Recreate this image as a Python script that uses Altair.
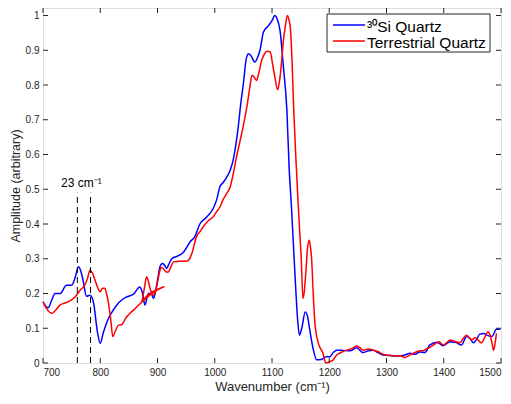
import altair as alt
import pandas as pd

# ---- data ----
blue_w = [700, 709, 715, 721, 730, 741, 750, 756, 762, 766, 770, 776, 782, 788, 795, 800, 805, 811, 820, 829,
          838, 846, 858, 869, 874, 878, 884, 889, 893, 897, 901, 905, 909, 913, 916, 920, 925, 934, 945, 957,
          965, 974, 986, 997, 1003, 1009, 1015, 1021, 1027, 1032, 1037, 1041, 1045, 1050, 1055, 1059, 1063, 1070,
          1075, 1079, 1085, 1094, 1100, 1105, 1109, 1114, 1120, 1126, 1130, 1134, 1140, 1145, 1148, 1152, 1158,
          1162, 1166, 1172, 1178, 1186, 1195, 1201, 1207, 1213, 1224, 1236, 1248, 1259, 1268, 1277, 1285, 1294,
          1310, 1323, 1332, 1341, 1350, 1358, 1367, 1376, 1388, 1399, 1411, 1420, 1431, 1440, 1446, 1452, 1458,
          1463, 1470, 1475, 1484, 1492, 1499]
blue_a = [0.176, 0.159, 0.18, 0.20, 0.20, 0.224, 0.224, 0.245, 0.277, 0.265, 0.238, 0.192, 0.195, 0.176, 0.09,
          0.057, 0.085, 0.115, 0.145, 0.167, 0.182, 0.19, 0.198, 0.219, 0.2, 0.167, 0.2, 0.2, 0.186, 0.21, 0.248,
          0.28, 0.286, 0.28, 0.272, 0.285, 0.30, 0.307, 0.318, 0.349, 0.363, 0.40, 0.42, 0.444, 0.468, 0.507,
          0.52, 0.535, 0.555, 0.583, 0.63, 0.679, 0.74, 0.804, 0.875, 0.89, 0.885, 0.866, 0.88, 0.9, 0.952,
          0.971, 0.985, 1.0, 0.99, 0.957, 0.85, 0.727, 0.56, 0.449, 0.258, 0.12, 0.08, 0.1, 0.147, 0.135, 0.095,
          0.04, 0.009, 0.01, 0.018, 0.018, 0.03, 0.037, 0.036, 0.035, 0.044, 0.03, 0.035, 0.037, 0.03, 0.023,
          0.021, 0.02, 0.023, 0.028, 0.025, 0.032, 0.03, 0.052, 0.06, 0.05, 0.061, 0.06, 0.052, 0.076, 0.07,
          0.058, 0.07, 0.083, 0.085, 0.08, 0.076, 0.097, 0.097]

red_w = [700, 707, 715, 722, 730, 737, 744, 756, 765, 773, 778, 782, 786, 791, 796, 800, 804, 808, 811, 814,
         818, 822, 827, 832, 837, 845, 852, 860, 869, 912, 872, 877, 881, 884, 887, 890, 893, 897, 901, 904,
         907, 911, 915, 919, 923, 928, 939, 951, 956, 960, 968, 975, 980, 989, 997, 1003, 1009, 1014, 1021,
         1027, 1033, 1038, 1047, 1056, 1061, 1065, 1069, 1073, 1077, 1082, 1087, 1091, 1097, 1101, 1105, 1110,
         1113, 1117, 1120, 1123, 1127, 1130, 1132, 1135, 1138, 1142, 1146, 1149, 1151, 1154, 1156, 1159, 1162,
         1165, 1167, 1169, 1172, 1175, 1181, 1189, 1194, 1201, 1207, 1213, 1218, 1230, 1240, 1248, 1253, 1259,
         1268, 1277, 1285, 1294, 1305, 1317, 1325, 1332, 1340, 1347, 1358, 1364, 1370, 1376, 1382, 1392, 1399,
         1405, 1411, 1420, 1428, 1436, 1440, 1445, 1449, 1455, 1460, 1466, 1472, 1477, 1481, 1484, 1487, 1490,
         1492]
red_a = [0.176, 0.155, 0.143, 0.152, 0.167, 0.172, 0.176, 0.19, 0.21, 0.224, 0.245, 0.267, 0.26, 0.238, 0.215,
         0.205, 0.215, 0.215, 0.2, 0.176, 0.13, 0.076, 0.095, 0.109, 0.11, 0.13, 0.143, 0.155, 0.17, 0.22, 0.175,
         0.215, 0.248, 0.235, 0.215, 0.2, 0.195, 0.21, 0.24, 0.265, 0.275, 0.27, 0.262, 0.262, 0.275, 0.291,
         0.293, 0.293, 0.3, 0.315, 0.363, 0.38, 0.392, 0.41, 0.42, 0.435, 0.449, 0.468, 0.488, 0.507, 0.55,
         0.593, 0.66, 0.736, 0.79, 0.828, 0.822, 0.813, 0.835, 0.871, 0.89, 0.897, 0.895, 0.86, 0.823, 0.786,
         0.81, 0.871, 0.93, 0.966, 1.0, 0.985, 0.966, 0.87, 0.727, 0.58, 0.449, 0.36, 0.305, 0.186, 0.2, 0.258,
         0.33, 0.353, 0.335, 0.305, 0.2, 0.114, 0.057, 0.028, 0.0, 0.004, 0.009, 0.023, 0.028, 0.037, 0.042,
         0.049, 0.045, 0.037, 0.04, 0.037, 0.033, 0.025, 0.022, 0.02, 0.02, 0.016, 0.022, 0.028, 0.035, 0.035,
         0.041, 0.045, 0.052, 0.061, 0.052, 0.058, 0.066, 0.062, 0.058, 0.075, 0.08, 0.072, 0.066, 0.073, 0.066,
         0.058, 0.075, 0.09, 0.08, 0.06, 0.037, 0.06, 0.085]

series_names = ["\u00b3\u2070Si Quartz", "Terrestrial Quartz"]
series_colors = ["#0000ff", "#ff0000"]

marker_w = [760, 783]
marker_top = 0.49
annot_text = ["23 cm\u207b\u00b9"]
annot_w = [767]
annot_a = [0.506]

x_ticks = [700, 800, 900, 1000, 1100, 1200, 1300, 1400, 1500]
y_ticks = [0, 0.1, 0.2, 0.3, 0.4, 0.5, 0.6, 0.7, 0.8, 0.9, 1.0]

# ---- tables ----
df = pd.concat([
    pd.DataFrame({"w": blue_w, "a": blue_a, "s": series_names[0], "i": range(len(blue_w))}),
    pd.DataFrame({"w": red_w, "a": red_a, "s": series_names[1], "i": range(len(red_w))}),
])
mk = pd.DataFrame({"w": marker_w, "a0": 0.0, "a1": marker_top})
an = pd.DataFrame({"t": annot_text, "w": annot_w, "a": annot_a})
xt = pd.DataFrame({"w": x_ticks})
yt = pd.DataFrame({"a": y_ticks})

FONT = "Liberation Sans"
AX = "#262626"
W, H = 458, 355

xs = alt.Scale(domain=[700, 1500], nice=False)
ys = alt.Scale(domain=[0, 1.0216], nice=False)

x_axis = alt.Axis(values=x_ticks, format="d", ticks=False, domain=False, grid=False,
                  labelFont=FONT, labelFontSize=10, labelColor=AX, labelPadding=4, labelOverlap=False,
                  title="Wavenumber (cm\u207b\u00b9)", titleFont=FONT, titleFontSize=13,
                  titleFontWeight="normal", titleColor=AX, titlePadding=3)
y_axis = alt.Axis(values=y_ticks, format=".1~f", ticks=False, domain=False, grid=False,
                  labelFont=FONT, labelFontSize=10, labelColor=AX, labelPadding=4, labelOverlap=False,
                  title="Amplitude (arbitrary)", titleFont=FONT, titleFontSize=12.5,
                  titleFontWeight="normal", titleColor=AX, titlePadding=3)

X = lambda f: alt.X(f, scale=xs, axis=x_axis)
Y = lambda f: alt.Y(f, scale=ys, axis=y_axis)

lines = alt.Chart(df).mark_line(strokeWidth=1.5, interpolate="monotone").encode(
    x=X("w:Q"), y=Y("a:Q"),
    color=alt.Color("s:N", scale=alt.Scale(domain=series_names, range=series_colors), legend=None),
    order="i:Q",
)

dashes = alt.Chart(mk).mark_rule(color="black", strokeWidth=1, strokeDash=[6, 4]).encode(
    x=X("w:Q"), y=Y("a0:Q"), y2="a1:Q")

label = alt.Chart(an).mark_text(font=FONT, fontSize=12, color="black", baseline="alphabetic").encode(
    x=X("w:Q"), y=Y("a:Q"), text="t:N")

tk = dict(color=AX, strokeWidth=1)
xb = alt.Chart(xt).mark_rule(**tk).encode(x=X("w:Q"), y=alt.value(H), y2=alt.value(H - 5))
xtop = alt.Chart(xt).mark_rule(**tk).encode(x=X("w:Q"), y=alt.value(0), y2=alt.value(5))
yl = alt.Chart(yt).mark_rule(**tk).encode(y=Y("a:Q"), x=alt.value(0), x2=alt.value(5))
yr = alt.Chart(yt).mark_rule(**tk).encode(y=Y("a:Q"), x=alt.value(W), x2=alt.value(W - 5))

# legend box (styled manually to match the reference layout)
box = alt.Chart(pd.DataFrame({"k": [0]})).mark_rect(fill="white", stroke=AX, strokeWidth=1).encode(
    x=alt.value(284), x2=alt.value(447), y=alt.value(6), y2=alt.value(44))
leg = [box]
for k, (name, col) in enumerate(zip(series_names, series_colors)):
    row = pd.DataFrame({"s": [name]})
    leg.append(alt.Chart(row).mark_rule(color=col, strokeWidth=1.5).encode(
        x=alt.value(290), x2=alt.value(322), y=alt.value(17 + 16 * k)))
    leg.append(alt.Chart(row).mark_text(font=FONT, fontSize=15.5, color="black", align="left",
                                        baseline="alphabetic").encode(
        x=alt.value(324), y=alt.value(23.5 + 16 * k), text="s:N"))

chart = alt.layer(lines, dashes, label, xb, xtop, yl, yr, *leg).properties(
    width=W, height=H,
    autosize=alt.AutoSizeParams(type="none"),
    padding={"left": 35, "top": 0, "right": 2, "bottom": 33},
).configure_view(stroke=AX, strokeWidth=1).configure(background="white")

chart.save("out.html", embed_options={"renderer": "svg", "actions": False})
